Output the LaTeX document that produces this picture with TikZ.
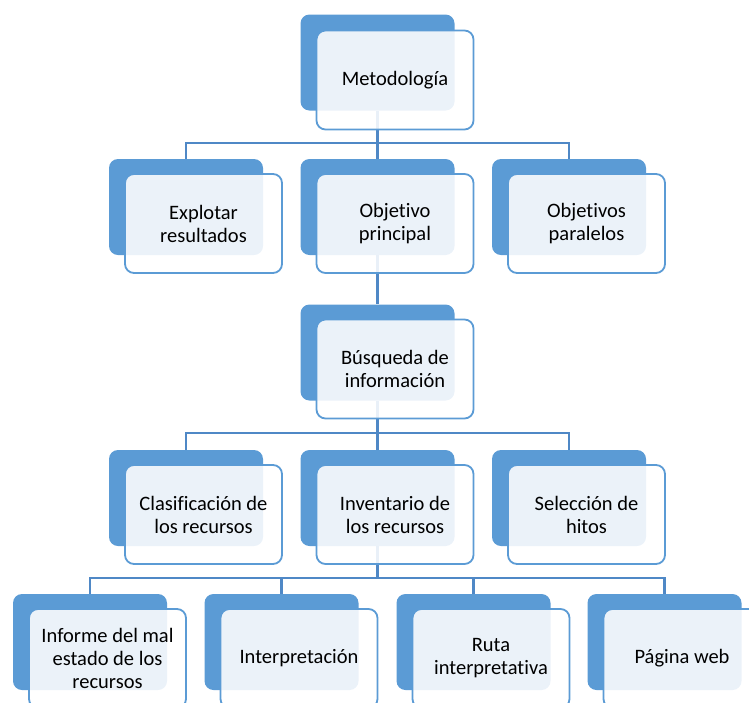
\documentclass[tikz,border=0pt]{standalone}
\usepackage{fontspec}
\setmainfont[Ligatures=NoCommon]{Carlito}
\usepackage{xcolor}
\usetikzlibrary{positioning, backgrounds}
\definecolor{backblue}{HTML}{5B9BD5}
\definecolor{lineblue}{HTML}{4F88C6}

\begin{document}
\begin{tikzpicture}[x=1pt, y=-1pt,
    back/.style={rectangle, rounded corners=9pt, fill=backblue, minimum width=154pt, minimum height=96pt, inner sep=0pt},
    front/.style={rectangle, rounded corners=9pt, draw=backblue, line width=1.8pt, fill=white, fill opacity=0.88, text opacity=1, minimum width=157pt, minimum height=99pt, inner sep=0pt, align=center, font=\fontsize{20.5}{23}\selectfont},
    conn/.style={draw=lineblue, line width=2.3pt}]
    \clip (0,0) rectangle (749,702);

    \node[back] (metB) at (377.5, 62.5) {};
    \node[front] (met) at ([shift={(17.5,17.5)}]metB) {Metodología};

    \node[back] (expB) at (186, 207) {};
    \node[back] (objB) at (377.5, 207) {};
    \node[back] (parB) at (569, 207) {};
    \node[front] (exp) at ([shift={(17.5,16.5)}]expB) {Explotar\\resultados};
    \node[front] (obj) at ([shift={(17.5,16.5)}]objB) {Objetivo\\principal};
    \node[front] (par) at ([shift={(17.5,16.5)}]parB) {Objetivos\\paralelos};

    \node[back] (busB) at (377.5, 352.5) {};
    \node[front] (bus) at ([shift={(17.5,16.5)}]busB) {Búsqueda de\\información};

    \node[back] (claB) at (186, 498) {};
    \node[back] (invB) at (377.5, 498) {};
    \node[back] (selB) at (569, 498) {};
    \node[front] (cla) at ([shift={(17.5,16.5)}]claB) {Clasificación de\\los recursos};
    \node[front] (inv) at ([shift={(17.5,16.5)}]invB) {Inventario de\\los recursos};
    \node[front] (sel) at ([shift={(17.5,16.5)}]selB) {Selección de\\hitos};

    \node[back] (infB) at (90, 642) {};
    \node[back] (intB) at (281.5, 642) {};
    \node[back] (rutB) at (473.5, 642) {};
    \node[back] (pagB) at (664.5, 642) {};
    \node[front] (inf) at ([shift={(17.5,16.5)}]infB) {Informe del mal\\estado de los\\recursos};
    \node[front] (int) at ([shift={(17.5,16.5)}]intB) {Interpretación};
    \node[front] (rut) at ([shift={(17.5,16.5)}]rutB) {Ruta\\interpretativa};
    \node[front] (pag) at ([shift={(17.5,16.5)}]pagB) {Página web};

    % connectors go behind the boxes
    \begin{scope}[on background layer]
    \coordinate (fork1) at (377.5, 143);
    \coordinate (fork2) at (377.5, 433);
    \coordinate (fork3) at (377.5, 578);

    \draw[conn] (metB) -- (fork1) -| (expB);
    \draw[conn] (fork1) -| (parB);
    \draw[conn] (fork1) -- (objB);

    \draw[conn] (objB) -- (busB);

    \draw[conn] (busB) -- (fork2) -| (claB);
    \draw[conn] (fork2) -| (selB);
    \draw[conn] (fork2) -- (invB);

    \draw[conn] (invB) -- (fork3) -| (infB);
    \draw[conn] (fork3) -| (intB);
    \draw[conn] (fork3) -| (rutB);
    \draw[conn] (fork3) -| (pagB);
    \end{scope}

\end{tikzpicture}
\end{document}
